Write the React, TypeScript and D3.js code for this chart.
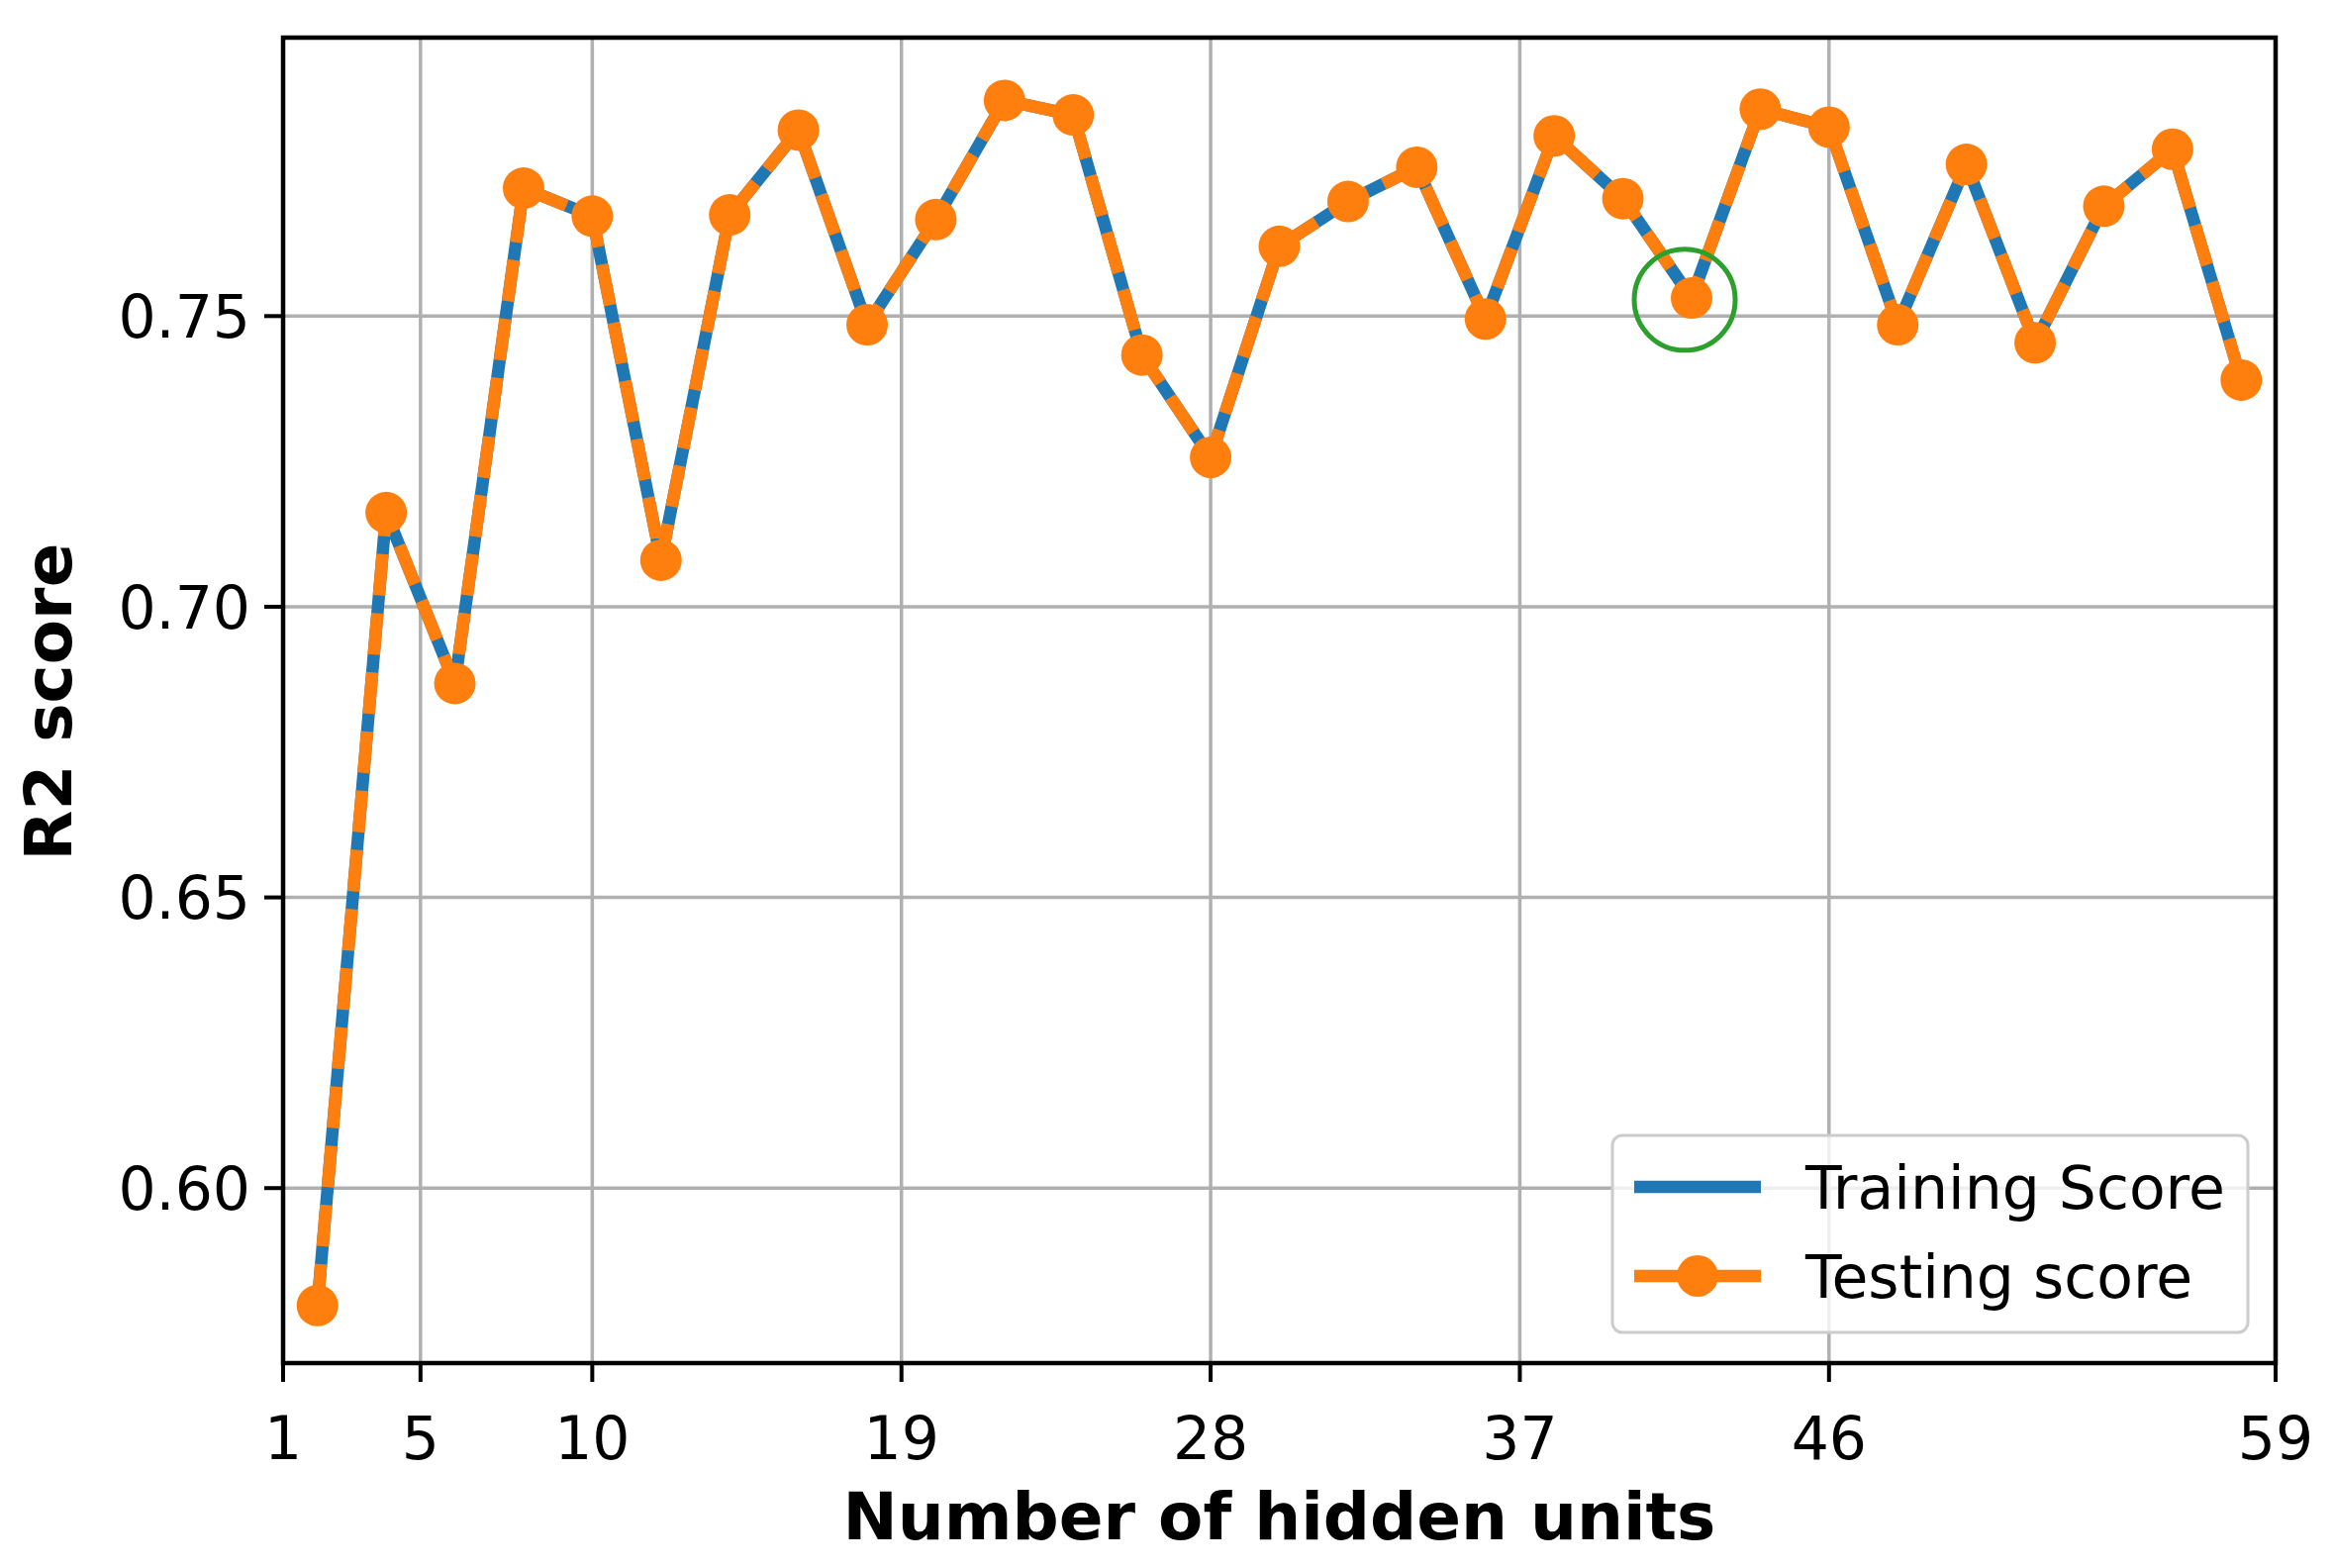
import React from "react";
import * as d3 from "d3";

const hiddenUnits = [2, 4, 6, 8, 10, 12, 14, 16, 18, 20, 22, 24, 26, 28, 30, 32, 34, 36, 38, 40, 42, 44, 46, 48, 50, 52, 54, 56, 58];
const trainingScore = [0.5798, 0.7162, 0.6868, 0.772, 0.7672, 0.708, 0.7674, 0.782, 0.7485, 0.7666, 0.7871, 0.7846, 0.7433, 0.7257, 0.762, 0.7697, 0.7756, 0.7495, 0.781, 0.7702, 0.7531, 0.7856, 0.7825, 0.7485, 0.7761, 0.7454, 0.7689, 0.7787, 0.739];
const testingScore = [0.5798, 0.7162, 0.6868, 0.772, 0.7672, 0.708, 0.7674, 0.782, 0.7485, 0.7666, 0.7871, 0.7846, 0.7433, 0.7257, 0.762, 0.7697, 0.7756, 0.7495, 0.781, 0.7702, 0.7531, 0.7856, 0.7825, 0.7485, 0.7761, 0.7454, 0.7689, 0.7787, 0.739];
const xTickValues = [1, 5, 10, 19, 28, 37, 46, 59];
const yTickValues = [0.6, 0.65, 0.7, 0.75];
const yTickLabels = ["0.60", "0.65", "0.70", "0.75"];
const highlightUnits = 41.8;
const highlightScore = 0.7528;
const seriesNames = ["Training Score", "Testing score"];

const BLUE = "#1f77b4";
const ORANGE = "#ff7f0e";
const GREEN = "#2ca02c";
const FONT = "DejaVu Sans";

export default function App() {
  const W = 2358, H = 1584;
  const L = 286, R = 2299, T = 38, B = 1377;
  const x = d3.scaleLinear().domain([1, 59]).range([L, R]);
  const y = d3.scaleLinear().domain([0.5699, 0.7979]).range([B, T]);
  const lineGen = (vals: number[]) =>
    d3.line<number>().x((_, i) => x(hiddenUnits[i])).y((d) => y(d))(vals) || "";

  const lw = 12.5;
  const markerR = 21;

  const legX = 1629, legY = 1147, legW = 642, legH = 199;
  const row1 = 1199, row2 = 1289;
  const hx1 = 1651, hx2 = 1779;

  return (
    <svg width={W} height={H} style={{ position: "absolute", left: 0, top: 0, background: "#fff" }} fontFamily={FONT}>
      <rect x={0} y={0} width={W} height={H} fill="#fff" />
      {/* grid */}
      {xTickValues.map((t) => (
        <line key={"gx" + t} x1={x(t)} x2={x(t)} y1={T} y2={B} stroke="#b0b0b0" strokeWidth={3.5} />
      ))}
      {yTickValues.map((t) => (
        <line key={"gy" + t} x1={L} x2={R} y1={y(t)} y2={y(t)} stroke="#b0b0b0" strokeWidth={3.5} />
      ))}
      {/* training line */}
      <path d={lineGen(trainingScore)} fill="none" stroke={BLUE} strokeWidth={lw} strokeLinejoin="round" />
      {/* testing line dashed */}
      <path d={lineGen(testingScore)} fill="none" stroke={ORANGE} strokeWidth={lw} strokeDasharray="42 18" strokeLinejoin="round" />
      {testingScore.map((v, i) => (
        <circle key={"m" + i} cx={x(hiddenUnits[i])} cy={y(v)} r={markerR} fill={ORANGE} />
      ))}
      {/* highlight circle */}
      <circle cx={x(highlightUnits)} cy={y(highlightScore)} r={51} fill="none" stroke={GREEN} strokeWidth={5} />
      {/* spines */}
      <rect x={L} y={T} width={R - L} height={B - T} fill="none" stroke="#000" strokeWidth={4.5} />
      {/* x ticks */}
      {xTickValues.map((t) => (
        <g key={"xt" + t}>
          <line x1={x(t)} x2={x(t)} y1={B} y2={B + 19} stroke="#000" strokeWidth={4} />
          <text x={x(t)} y={1474} textAnchor="middle" fontSize={60} fill="#000">{t}</text>
        </g>
      ))}
      {/* y ticks */}
      {yTickValues.map((t, i) => (
        <g key={"yt" + t}>
          <line x1={L - 19} x2={L} y1={y(t)} y2={y(t)} stroke="#000" strokeWidth={4} />
          <text x={253} y={y(t)} dy="0.36em" textAnchor="end" fontSize={60} fill="#000">{yTickLabels[i]}</text>
        </g>
      ))}
      {/* axis labels */}
      <text x={(L + R) / 2} y={1555} textAnchor="middle" fontSize={66} fontWeight="bold" fill="#000">Number of hidden units</text>
      <text transform={`translate(${72},${709}) rotate(-90)`} textAnchor="middle" fontSize={66} fontWeight="bold" fill="#000">R2 score</text>
      {/* legend */}
      <rect x={legX} y={legY} width={legW} height={legH} rx={10} fill="#fff" fillOpacity={0.8} stroke="#cccccc" strokeWidth={3} />
      <line x1={hx1} x2={hx2} y1={row1} y2={row1} stroke={BLUE} strokeWidth={lw} />
      <line x1={hx1} x2={hx2} y1={row2} y2={row2} stroke={ORANGE} strokeWidth={lw} />
      <circle cx={(hx1 + hx2) / 2} cy={row2} r={markerR} fill={ORANGE} />
      <text x={1824} y={row1} dy="0.36em" fontSize={60} fill="#000">{seriesNames[0]}</text>
      <text x={1824} y={row2} dy="0.36em" fontSize={60} fill="#000">{seriesNames[1]}</text>
    </svg>
  );
}
